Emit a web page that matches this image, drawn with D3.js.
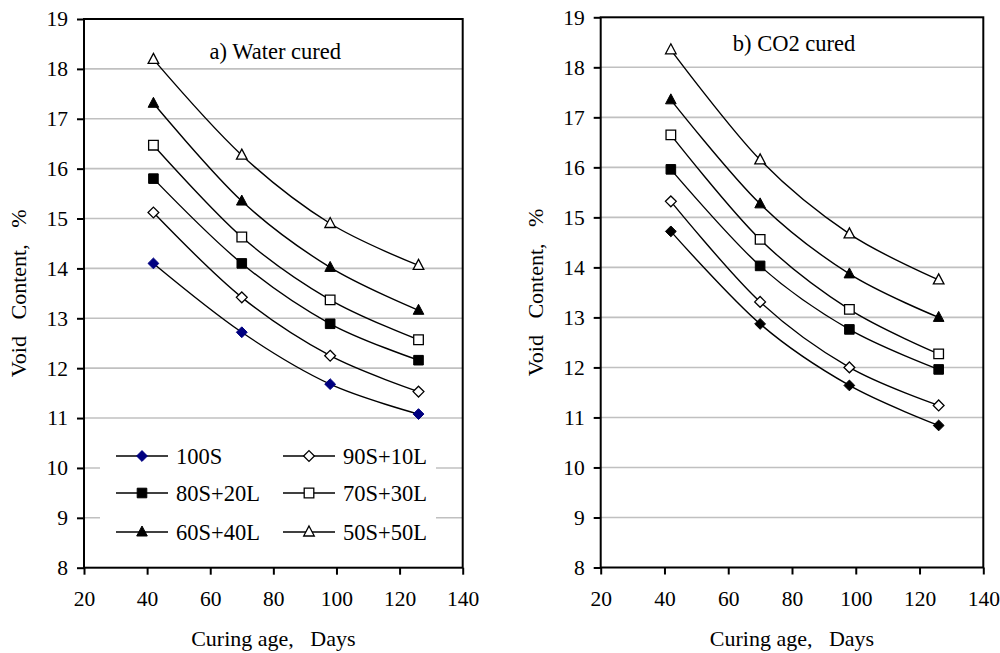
<!DOCTYPE html>
<html>
<head>
<meta charset="utf-8">
<script src="https://cdn.jsdelivr.net/npm/d3@7"></script>
<style>
html,body{margin:0;padding:0;background:#fff;}
svg{display:block;}
svg text{font-family:"Liberation Serif","Times New Roman",serif;}
</style>
</head>
<body>
<svg id="chart" width="1000" height="653"></svg>
<script>
// ---- data ----
const days = [42, 70, 98, 126];
const seriesNames = ["100S", "90S+10L", "80S+20L", "70S+30L", "60S+40L", "50S+50L"];
const markerTypes = ["diamondFill", "diamondOpen", "squareFill", "squareOpen", "triangleFill", "triangleOpen"];
const waterCured = [
  [14.10, 12.72, 11.68, 11.08],
  [15.12, 13.42, 12.25, 11.53],
  [15.80, 14.10, 12.89, 12.16],
  [16.47, 14.63, 13.37, 12.57],
  [17.31, 15.35, 14.02, 13.16],
  [18.19, 16.27, 14.90, 14.06]
];
const co2Cured = [
  [14.72, 12.87, 11.64, 10.84],
  [15.32, 13.31, 12.00, 11.24],
  [15.96, 14.03, 12.76, 11.96],
  [16.65, 14.56, 13.16, 12.27],
  [17.35, 15.27, 13.87, 13.00],
  [18.35, 16.15, 14.67, 13.75]
];
const xTicks = [20, 40, 60, 80, 100, 120, 140];
const yTicks = [8, 9, 10, 11, 12, 13, 14, 15, 16, 17, 18, 19];
const panelTitles = ["a) Water cured", "b) CO2 cured"];
const xTitle = "Curing age,\u00a0\u00a0\u00a0Days";
const yTitle = "Void\u00a0\u00a0\u00a0Content,\u00a0\u00a0\u00a0%";

const FONT = "Liberation Serif";
const svg = d3.select("#chart");

function markerPath(type) {
  if (type.startsWith("diamond")) { const r = 5.4; return `M0,${-r}L${r},0L0,${r}L${-r},0Z`; }
  if (type.startsWith("square")) { const r = 4.8; return `M${-r},${-r}H${r}V${r}H${-r}Z`; }
  const w = 5.3, h = 10; return `M0,${-h*0.6}L${w},${h*0.4}L${-w},${h*0.4}Z`;
}
function drawMarker(g, type, x, y, color) {
  const fill = type.endsWith("Fill");
  g.append("path").attr("d", markerPath(type))
    .attr("transform", `translate(${x},${y})`)
    .attr("fill", fill ? color : "#fff")
    .attr("stroke", color).attr("stroke-width", fill ? 1 : 1.3);
}

function drawPanel(opt) {
  const x = d3.scaleLinear().domain([20, 140]).range([opt.left, opt.right]);
  const y = d3.scaleLinear().domain([8, 19]).range([opt.bottom, opt.top]);
  const g = svg.append("g");

  // gridlines
  g.append("g").selectAll("line").data(yTicks.filter(t => t > 8 && t < 19)).join("line")
    .attr("x1", opt.left).attr("x2", opt.right)
    .attr("y1", d => y(d)).attr("y2", d => y(d))
    .attr("stroke", "#c0c0c0").attr("stroke-width", 1.6);

  // axes
  const yAxis = g.append("g").attr("transform", `translate(${opt.left},0)`)
    .call(d3.axisLeft(y).tickValues(yTicks).tickSize(7).tickSizeOuter(0).tickPadding(9).tickFormat(d3.format("d")));
  const xAxis = g.append("g").attr("transform", `translate(0,${opt.bottom})`)
    .call(d3.axisBottom(x).tickValues(xTicks).tickSize(7).tickSizeOuter(0).tickPadding(16).tickFormat(d3.format("d")));
  [yAxis, xAxis].forEach(a => {
    a.attr("font-family", FONT).attr("font-size", 21.5);
    a.select(".domain").remove();
    a.selectAll("line").attr("stroke", "#000").attr("stroke-width", 2);
    a.selectAll("text").attr("fill", "#000");
  });

  // frame
  g.append("rect").attr("x", opt.left).attr("y", opt.top)
    .attr("width", opt.right - opt.left).attr("height", opt.bottom - opt.top)
    .attr("fill", "none").attr("stroke", "#000").attr("stroke-width", 2);

  // legend background (drawn before lines)
  if (opt.legend) {
    g.append("rect").attr("x", opt.left + 16).attr("y", 438)
      .attr("width", 336).attr("height", 112).attr("fill", "#fff");
  }

  // series
  const line = d3.line().x((d, i) => x(days[i])).y(d => y(d)).curve(d3.curveCatmullRom.alpha(0));
  opt.values.forEach((vals) => {
    g.append("path").attr("d", line(vals)).attr("fill", "none")
      .attr("stroke", "#000").attr("stroke-width", 1.4);
  });
  opt.values.forEach((vals, si) => {
    const color = si === 0 ? opt.firstColor : "#000";
    vals.forEach((v, i) => drawMarker(g, markerTypes[si], x(days[i]), y(v), color));
  });

  // title
  g.append("text").attr("x", (opt.left + opt.right) / 2 + 2).attr("y", opt.titleY)
    .attr("text-anchor", "middle").attr("font-family", FONT).attr("font-size", 22.5).text(opt.title);

  // axis titles
  g.append("text").attr("x", (opt.left + opt.right) / 2).attr("y", 646)
    .attr("text-anchor", "middle").attr("font-family", FONT).attr("font-size", 22).text(xTitle);
  g.append("text").attr("transform", `translate(${opt.left - 58},${(opt.top + opt.bottom) / 2}) rotate(-90)`)
    .attr("text-anchor", "middle").attr("font-family", FONT).attr("font-size", 22).text(yTitle);

  // legend
  if (opt.legend) {
    const lg = g.append("g");
    const colX = [opt.left + 32, opt.left + 199];
    const rowY = [456, 493, 532];
    seriesNames.forEach((name, i) => {
      const cx = colX[i % 2], cy = rowY[Math.floor(i / 2)];
      lg.append("line").attr("x1", cx).attr("x2", cx + 52).attr("y1", cy).attr("y2", cy)
        .attr("stroke", "#000").attr("stroke-width", 1.4);
      drawMarker(lg, markerTypes[i], cx + 26, cy, i === 0 ? opt.firstColor : "#000");
      lg.append("text").attr("x", cx + 60).attr("y", cy + 7.5)
        .attr("font-family", FONT).attr("font-size", 22.5).text(name);
    });
  }
}

drawPanel({ left: 84, right: 462.7, top: 19, bottom: 567.7, values: waterCured,
  firstColor: "#000080", title: panelTitles[0], titleY: 59, legend: true });
drawPanel({ left: 600.7, right: 983.3, top: 17.3, bottom: 567.5, values: co2Cured,
  firstColor: "#000", title: panelTitles[1], titleY: 50.5, legend: false });
</script>
</body>
</html>
